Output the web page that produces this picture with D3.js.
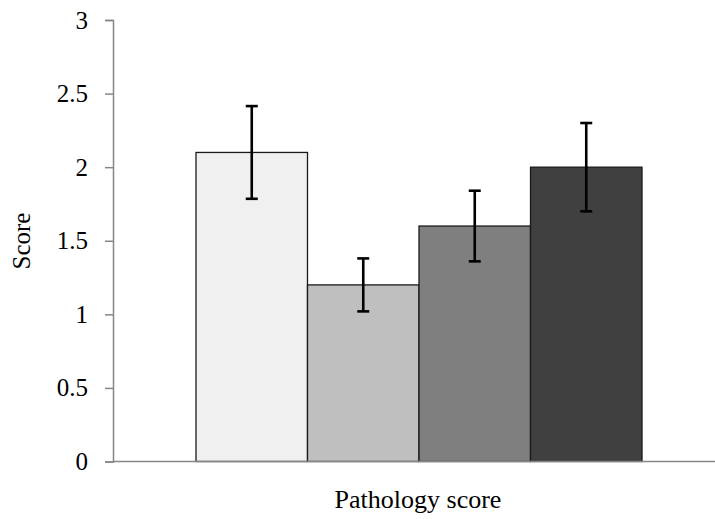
<!DOCTYPE html>
<html>
<head>
<meta charset="utf-8">
<script src="https://cdn.jsdelivr.net/npm/d3@7"></script>
<style>
  html, body { margin: 0; padding: 0; background: #fff; }
  svg { display: block; }
  text { font-family: "Liberation Serif", "Times New Roman", serif; fill: #000; }
</style>
</head>
<body>
<svg id="chart" width="715" height="519"></svg>
<script>
// Pathology score by group: mean and error
const groups = ["G1", "G2", "G3", "G4"];
const values = [2.1, 1.2, 1.6, 2.0];
const errors = [0.315, 0.18, 0.24, 0.30];
const fills  = ["#f0f0f0", "#bfbfbf", "#7f7f7f", "#404040"];
const yTicks = [0, 0.5, 1, 1.5, 2, 2.5, 3];
const xTitle = "Pathology score";
const yTitle = "Score";

const svg = d3.select("#chart");
const plot = { left: 113, right: 725, top: 20, bottom: 461.5 };

const y = d3.scaleLinear().domain([0, 3]).range([plot.bottom, plot.top]);
// bars sit contiguously in the middle of the category band
const x = d3.scaleBand().domain(groups).range([196, 642]).padding(0);

// y axis
const yAxis = svg.append("g")
  .attr("transform", `translate(${plot.left},0)`)
  .call(d3.axisLeft(y).tickValues(yTicks).tickSize(8).tickPadding(17)
    .tickFormat(d => d3.format("~g")(d)));
yAxis.select(".domain").attr("stroke", "#868686").attr("stroke-width", 1.5);
yAxis.selectAll(".tick line").attr("stroke", "#868686").attr("stroke-width", 1.5);
yAxis.selectAll(".tick text")
  .style("font-family", '"Liberation Serif", "Times New Roman", serif')
  .style("font-size", "25px").attr("fill", "#000");

// bars
svg.append("g").selectAll("rect").data(values).join("rect")
  .attr("x", (d, i) => x(groups[i]))
  .attr("y", d => y(d))
  .attr("width", x.bandwidth())
  .attr("height", d => y(0) - y(d))
  .attr("fill", (d, i) => fills[i])
  .attr("stroke", "#1a1a1a")
  .attr("stroke-width", 1.3);

// x axis baseline
svg.append("line")
  .attr("x1", plot.left).attr("x2", plot.right)
  .attr("y1", y(0)).attr("y2", y(0))
  .attr("stroke", "#868686").attr("stroke-width", 1.5);

// error bars
const eb = svg.append("g").attr("stroke", "#000").attr("stroke-width", 2.6);
values.forEach((v, i) => {
  const cx = x(groups[i]) + x.bandwidth() / 2;
  const hi = y(v + errors[i]), lo = y(v - errors[i]);
  eb.append("line").attr("x1", cx).attr("x2", cx).attr("y1", hi).attr("y2", lo);
  eb.append("line").attr("x1", cx - 6).attr("x2", cx + 6).attr("y1", hi).attr("y2", hi);
  eb.append("line").attr("x1", cx - 6).attr("x2", cx + 6).attr("y1", lo).attr("y2", lo);
});

// titles
svg.append("text")
  .attr("x", 418).attr("y", 508)
  .attr("text-anchor", "middle")
  .style("font-size", "26px")
  .text(xTitle);

svg.append("text")
  .attr("transform", "translate(30,241) rotate(-90)")
  .attr("text-anchor", "middle")
  .style("font-size", "25px")
  .text(yTitle);
</script>
</body>
</html>
